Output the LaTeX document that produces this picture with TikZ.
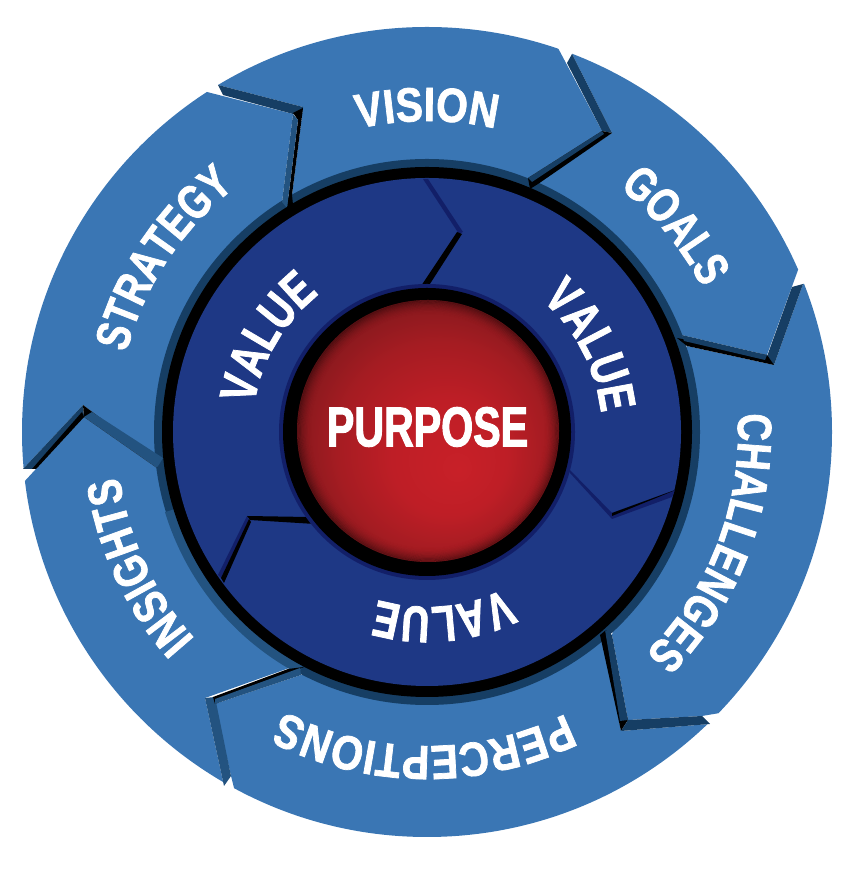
\documentclass[tikz,border=0pt]{standalone}
\usepackage{fontspec}
\usetikzlibrary{decorations.text}
\newfontface\ringfaceB[FakeStretch=0.77,FakeBold=1.5]{Liberation Sans Bold}
\newfontface\ringfaceC[FakeStretch=0.80,FakeBold=1.5]{Liberation Sans Bold}
\newfontface\ringfaceD[FakeStretch=0.85,FakeBold=1.5]{Liberation Sans Bold}
\newfontface\valueface[FakeStretch=0.76,FakeBold=1.5]{Liberation Sans Bold}
\newfontface\coreface[FakeStretch=0.735,FakeBold=1.8]{Liberation Sans Bold}
\newcommand\ringB{\fontsize{48}{50}\ringfaceB}
\newcommand\ringC{\fontsize{48}{50}\ringfaceC}
\newcommand\ringD{\fontsize{48}{50}\ringfaceD}
\newcommand\valuelabel{\fontsize{51}{53}\valueface}
\definecolor{faceblue}{HTML}{3A76B4}
\definecolor{walldark}{HTML}{163E64}
\definecolor{wallmid}{HTML}{235380}
\definecolor{navy}{HTML}{1E3885}
\definecolor{navydeep}{HTML}{121F68}
\definecolor{redA}{RGB}{200,32,40}
\definecolor{redB}{RGB}{190,30,38}
\definecolor{redC}{RGB}{165,28,34}
\definecolor{redD}{RGB}{138,25,30}
\definecolor{redE}{RGB}{100,15,18}
\definecolor{redF}{RGB}{66,12,14}
% the circle filling this shading spans 25bp from its centre
\pgfdeclareradialshading{redball}{\pgfpoint{6bp}{-7.5bp}}{
  color(0bp)=(redA);
  color(11bp)=(redB);
  color(20bp)=(redC);
  color(26bp)=(redD);
  color(31bp)=(redE);
  color(34bp)=(redF)}
\tikzset{
  face/.style={fill=faceblue},
  wall/.style={fill=walldark},
  wallsoft/.style={fill=wallmid},
  slit/.style={fill=black},
  innerwall/.style={fill=navydeep},
  curvedtext/.style={decorate,decoration={text along path,text align=center,
    text color=white,text={#1}}}
}
\begin{document}
\begin{tikzpicture}[x=1pt,y=1pt]
\useasboundingbox (0,0) rectangle (864,869);

% outer arrows, corners in image order with the y axis pointing down
\begin{scope}
\clip (427,437) circle (405);
\begin{scope}[shift={(0,869)},yscale=-1]
\fill[face] (218,85) -- (170,10) -- (400,-20) -- (620,-10) -- (558,48) -- (602,131) -- (528,178) -- (292,195) -- (303,107) -- cycle;
\fill[face] (572,54) -- (590,0) -- (900,100) -- (900,260) -- (798,270) -- (767,355) -- (682,335) -- (537,183) -- (612,133) -- cycle;
\fill[face] (803,284) -- (900,270) -- (900,800) -- (760,760) -- (720,713) -- (702,716) -- (628,720) -- (612,635) -- (687,346) -- (774,365) -- cycle;
\fill[face] (710,724) -- (760,780) -- (600,900) -- (230,900) -- (235,792) -- (231,776) -- (215,704) -- (301,675) -- (603,636) -- (621,731) -- cycle;
\fill[face] (224,786) -- (180,860) -- (-50,650) -- (-50,490) -- (23,483) -- (84,417) -- (157,468) -- (292,667) -- (205,698) -- cycle;
\fill[face] (23,469) -- (-50,470) -- (-50,200) -- (150,30) -- (207,92) -- (293,114) -- (282,202) -- (153,457) -- (83,405) -- cycle;
\end{scope}
\end{scope}

% bevel ring below the inner edge of the arrows
\begin{scope}[shift={(427,437)}]
\fill[walldark] (0,0) circle (273);
\fill[wallmid] (0,0) -- (197:274) arc (197:242:274) -- cycle;
\end{scope}

% walls and slits where each arrow head enters the next notch
\begin{scope}[shift={(0,869)},yscale=-1]
% vision into goals
\fill[wall] (572,54) -- (612,133) -- (602,131) -- (567,63) -- cycle;
\fill[slit] (602,131) -- (612,133) -- (538,184) -- (530,189) -- (528,178) -- cycle;
\fill[wall] (528,178) -- (602,131) -- (604,134) -- (532,182) -- cycle;
% goals into challenges
\fill[wall] (803,284) -- (774,365) -- (765,362) -- (792,287) -- cycle;
\fill[slit] (677,338) -- (767,355) -- (774,365) -- (687,346) -- cycle;
\fill[wall] (682,335) -- (767,355) -- (765,360) -- (684,341) -- cycle;
% challenges into perceptions
\fill[slit] (600,635) -- (606,630) -- (628,720) -- (621,731) -- cycle;
\fill[wall] (628,720) -- (702,716) -- (710,724) -- (621,731) -- cycle;
\fill[wall] (605,630) -- (612,635) -- (628,720) -- (620,721) -- cycle;
% perceptions into insights
\fill[wallsoft] (205,698) -- (215,697) -- (231,776) -- (224,786) -- cycle;
\fill[slit] (213,697) -- (288,669) -- (304,667) -- (215,704) -- cycle;
\fill[wallsoft] (215,704) -- (301,675) -- (300,668) -- (215,699) -- cycle;
% insights into strategy
\fill[wall] (83,405) -- (23,469) -- (36,469) -- (84,417) -- cycle;
\fill[slit] (36,469) -- (84,417) -- (82,412) -- (32,469) -- cycle;
\fill[slit] (83,405) -- (153,457) -- (161,459) -- (157,468) -- (84,417) -- cycle;
\fill[wallsoft] (84,417) -- (92,412) -- (163,458) -- (157,468) -- cycle;
% strategy into vision
\fill[wall] (218,85) -- (303,107) -- (302,115) -- (293,114) -- (223,95) -- cycle;
\fill[slit] (293,113) -- (303,108) -- (292,195) -- (293,205) -- (287,208) -- (298,120) -- cycle;
\fill[wallsoft] (293,114) -- (298,120) -- (287,208) -- (282,202) -- cycle;
\end{scope}

% black ring and navy band
\begin{scope}[shift={(427,437)}]
\fill[black] (0,0) circle (265);
\fill[navy] (0,0) circle (254);
\end{scope}

% joints of the navy band
\begin{scope}[shift={(0,869)},yscale=-1]
\fill[innerwall] (428,179) -- (463,232) -- (459,234) -- (423,179) -- cycle;
\fill[slit] (457,232) -- (462,234) -- (428,287) -- (419,289) -- cycle;
\fill[innerwall] (567,467) -- (612,513) -- (675,490) -- (672,497) -- (612,519) -- (570,473) -- cycle;
\fill[slit] (612,513) -- (678,489) -- (612,516) -- cycle;
\fill[innerwall] (247,516) -- (218,575) -- (221,578) -- (249,520) -- cycle;
\fill[slit] (221,578) -- (249,519) -- (251,522) -- (224,583) -- cycle;
\fill[slit] (247,516) -- (308,517) -- (315,524) -- (250,520) -- cycle;
\end{scope}

% centre: deep rim, black ring and the red ball with a darkening edge
\begin{scope}[shift={(427,437)}]
\fill[navydeep] (0,0) circle (148);
\fill[black] (0,0) circle (144);
\shade[shading=redball] (1,1) circle (131);
\foreach \k in {1,...,12}{
  \pgfmathsetmacro\rimalpha{0.4*(1-\k/13)*(1-\k/13)}
  \draw[black,line width=1.3pt,opacity=\rimalpha] (1,1) circle (131.5-\k*1.2);
}

% arrow labels, set clockwise with their tops outward
\path[curvedtext={|\ringD|VISION}] (130:311) arc (130:50:311);
\path[curvedtext={|\ringB|GOALS}] (79.7:311) arc (79.7:-0.3:311);
\path[curvedtext={|\ringC|CHALLENGES}] (39:311) arc (39:-81:311);
\path[curvedtext={|\ringD|PERCEPTIONS}] (-30.5:314) arc (-30.5:-150.5:314);
\path[curvedtext={|\ringC|INSIGHTS}] (255:311) arc (255:155:311);
\path[curvedtext={|\ringB|STRATEGY}] (196.7:311) arc (196.7:96.7:311);

% band labels
\path[curvedtext={|\valuelabel|VALUE}] (199.5:175) arc (199.5:99.5:175);
\path[curvedtext={|\valuelabel|VALUE}] (77.7:175) arc (77.7:-22.3:175);
\path[curvedtext={|\valuelabel|VALUE}] (-35:175) arc (-35:-135:175);

\node[text=white,inner sep=0pt,font=\fontsize{56}{58}\coreface] (purpose) at (0.5,5) {PURPOSE};
\end{scope}
\end{tikzpicture}
\end{document}
